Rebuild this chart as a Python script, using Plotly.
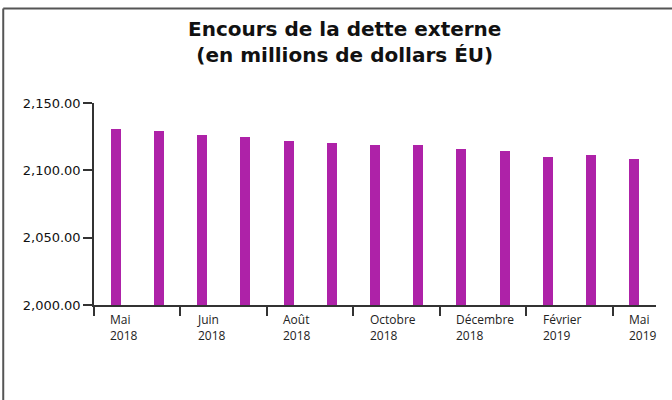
import plotly.graph_objects as go

months = ["Mai 2018", "Juin 2018", "Juil 2018", "Août 2018", "Sept 2018", "Oct 2018",
          "Nov 2018", "Déc 2018", "Janv 2019", "Févr 2019", "Mars 2019", "Avr 2019", "Mai 2019"]
values = [2130.5, 2129.0, 2126.0, 2124.5, 2121.6, 2120.0, 2118.6,
          2118.6, 2115.6, 2114.1, 2109.7, 2111.2, 2108.2]
tick_positions = [-0.5, 1.5, 3.5, 5.5, 7.5, 9.5, 11.5]
tick_labels = ["Mai<br>2018", "Juin<br>2018", "Août<br>2018", "Octobre<br>2018",
               "Décembre<br>2018", "Février<br>2019", "Mai<br>2019"]
y_ticks = [2000, 2050, 2100, 2150]

bar_color = "#AE22A8"
axis_color = "#333333"

x_idx = list(range(len(values)))

fig = go.Figure()
fig.add_trace(go.Bar(x=x_idx, y=values, width=0.23, marker=dict(color=bar_color, line=dict(width=0)),
                     hovertext=months, showlegend=False))

fig.update_layout(
    width=672, height=400,
    margin=dict(l=94, r=16, t=103, b=95),
    paper_bgcolor="white", plot_bgcolor="white",
    title=dict(text="<b>Encours de la dette externe<br>(en millions de dollars ÉU)</b>",
               font=dict(family="DejaVu Sans", size=20, color="#111111"),
               xref="container", x=0.513, xanchor="center",
               yref="container", y=0.91, yanchor="top"),
    bargap=0,
)

fig.update_xaxes(range=[-0.5, 12.5], tickmode="array", tickvals=tick_positions,
                 ticktext=[""] * len(tick_positions), ticks="outside", ticklen=9,
                 tickcolor=axis_color, tickwidth=1.5, showline=True, linecolor=axis_color,
                 linewidth=1.5, showgrid=False, zeroline=False)
fig.update_yaxes(range=[2000, 2150], tickmode="array", tickvals=y_ticks, tickformat=",.2f",
                 ticks="outside", ticklen=9, tickcolor=axis_color, tickwidth=1.5,
                 showline=True, linecolor=axis_color, linewidth=1.5, showgrid=False,
                 zeroline=False, tickfont=dict(family="DejaVu Sans", size=13, color="#111111"))

for t, lab in zip(tick_positions, tick_labels):
    fig.add_annotation(x=t + 0.33, y=0, xref="x", yref="paper", text=lab, showarrow=False,
                       xanchor="left", yanchor="top", align="left", yshift=-4,
                       font=dict(family="Open Sans", size=12, color="#222222"))

# frame lines (top and left)
fig.add_shape(type="line", xref="paper", yref="paper", x0=-0.1615, x1=1.2, y0=1.468, y1=1.468,
              line=dict(color="#555555", width=2))
fig.add_shape(type="line", xref="paper", yref="paper", x0=-0.1615, x1=-0.1615, y0=-0.6, y1=1.468,
              line=dict(color="#555555", width=2))

fig.write_html("out.html", config={"displayModeBar": False},
               post_script="document.body.style.margin='0';")
